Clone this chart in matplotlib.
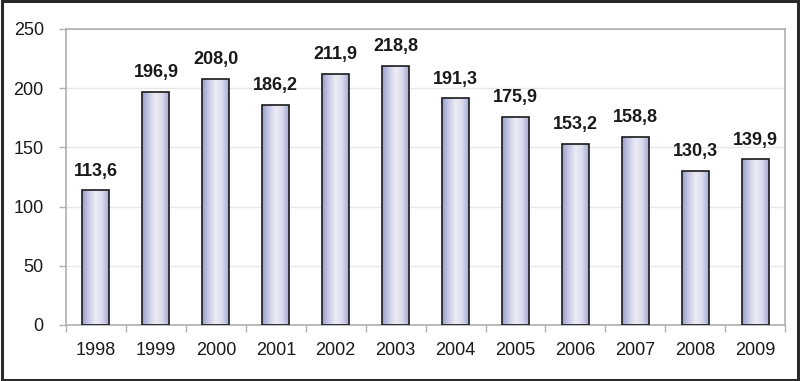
import matplotlib
matplotlib.use("Agg")
import matplotlib.pyplot as plt
import numpy as np
from matplotlib.colors import LinearSegmentedColormap
from matplotlib.patches import Rectangle

years = ["1998", "1999", "2000", "2001", "2002", "2003", "2004", "2005", "2006", "2007", "2008", "2009"]
values = [113.6, 196.9, 208.0, 186.2, 211.9, 218.8, 191.3, 175.9, 153.2, 158.8, 130.3, 139.9]
yticks = [0, 50, 100, 150, 200, 250]

plt.rcParams['font.family'] = ['Liberation Sans', 'DejaVu Sans']

fig = plt.figure(figsize=(8.0, 3.81), dpi=100)
ax = fig.add_axes([0.0825, 0.147, 0.899, 0.777])

x = np.arange(len(years))
bars = ax.bar(x, values, width=0.45, color='none', edgecolor='#1a1a1a', linewidth=1.2, zorder=3)

cmap = LinearSegmentedColormap.from_list('g', ['#9a9ece', '#c8cae6', '#ececf6', '#dcdcef', '#a6a9d4'])
grad = np.linspace(0, 1, 256).reshape(1, -1)
for b in bars:
    x0, y0 = b.get_x(), b.get_y()
    w, h = b.get_width(), b.get_height()
    im = ax.imshow(grad, extent=[x0, x0 + w, y0, y0 + h], aspect='auto', cmap=cmap, zorder=2, interpolation='bicubic')
    im.set_clip_path(b)
    ax.text(x0 + w / 2, h + 9, f"{h:.1f}".replace('.', ','), ha='center', va='bottom',
            fontsize=13, fontweight='bold', color='#1a1a1a', zorder=4)

ax.set_xlim(-0.5, len(years) - 0.5)
ax.set_ylim(0, 250)
ax.set_yticks(yticks)
ax.set_yticklabels([str(t) for t in yticks], fontsize=13, color='#1a1a1a')
ax.set_xticks(x)
ax.set_xticklabels(years, fontsize=13, color='#1a1a1a')
ax.tick_params(axis='x', length=0, pad=12)
ax.set_xticks(np.arange(len(years) + 1) - 0.5, minor=True)
ax.tick_params(axis='x', which='minor', length=5, color='#b0b0b0', width=1)
ax.tick_params(axis='y', length=5, color='#b0b0b0', width=1, pad=11)

ax.yaxis.grid(True, color='#e8e8e8', linewidth=1, zorder=0)
ax.set_axisbelow(True)
for s in ['left', 'top', 'right', 'bottom']:
    ax.spines[s].set_color('#b0b0b0')
    ax.spines[s].set_linewidth(1.2)

fig.patches.append(Rectangle((0.002, 0.003), 0.996, 0.994, transform=fig.transFigure,
                             fill=False, edgecolor='#2a2a2a', linewidth=2.2))

fig.savefig('out.png', dpi=100)
